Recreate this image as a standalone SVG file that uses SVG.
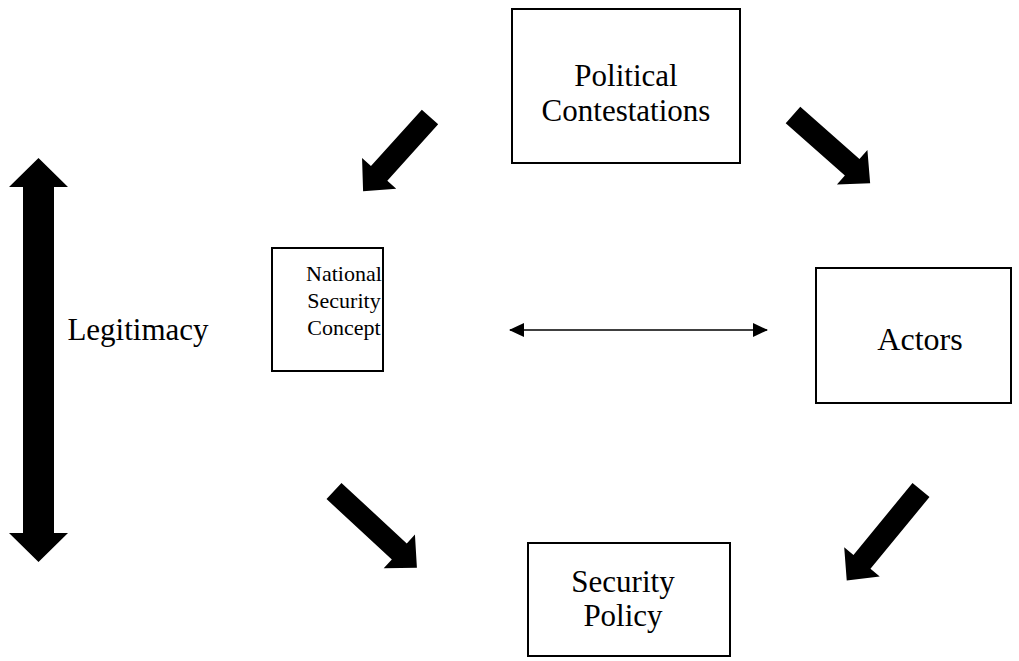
<svg xmlns="http://www.w3.org/2000/svg" width="1019" height="661" viewBox="0 0 1019 661">
<defs>
<style>
.box{fill:#fff;stroke:#000;stroke-width:2}
.t{font-family:"Liberation Serif","Times New Roman",serif;font-size:31px;fill:#000;text-anchor:middle}
.fat{fill:#000}
</style>
<marker id="ah" viewBox="0 0 15 14" refX="14" refY="7" markerWidth="15" markerHeight="14" markerUnits="userSpaceOnUse" orient="auto-start-reverse">
<path d="M0,0 L15,7 L0,14 z" fill="#000"/>
</marker>
</defs>
<rect width="1019" height="661" fill="#fff"/>
<g id="political-contestations">
<rect class="box" x="512" y="9" width="228" height="154"/>
<text class="t" x="626" y="86">Political</text>
<text class="t" x="626" y="121">Contestations</text>
</g>
<g id="national-security-concept">
<rect class="box" x="272" y="248" width="111" height="123"/>
<text class="t" x="344" y="281" style="font-size:22px">National</text>
<text class="t" x="344" y="308" style="font-size:22px">Security</text>
<text class="t" x="344" y="335" style="font-size:22px">Concept</text>
</g>
<g id="actors">
<rect class="box" x="816" y="268" width="195" height="135"/>
<text class="t" x="920" y="350" style="font-size:32px">Actors</text>
</g>
<g id="security-policy">
<rect class="box" x="528" y="543" width="202" height="113"/>
<text class="t" x="623" y="592">Security</text>
<text class="t" x="623" y="626">Policy</text>
</g>
<g id="legitimacy">
<text class="t" x="138" y="340">Legitimacy</text>
</g>
<g id="connectors">
<polygon class="fat" points="38.5,158 68,187 54,187 54,533 68,533 38.5,562 9,533 23,533 23,187 9,187"/>
<polygon class="fat" transform="translate(430,117) rotate(132)" points="0,-11 76,-11 76,-23 100,0 76,23 76,11 0,11"/>
<polygon class="fat" transform="translate(793,115) rotate(41.5)" points="0,-11 79,-11 79,-23 103,0 79,23 79,11 0,11"/>
<polygon class="fat" transform="translate(334,491) rotate(42.8)" points="0,-11 89,-11 89,-23 113,0 89,23 89,11 0,11"/>
<polygon class="fat" transform="translate(921,490) rotate(129.4)" points="0,-11 93,-11 93,-23 117,0 93,23 93,11 0,11"/>
<line x1="510" y1="330" x2="767" y2="330" stroke="#000" stroke-width="1.5" marker-start="url(#ah)" marker-end="url(#ah)"/>
</g>
</svg>
